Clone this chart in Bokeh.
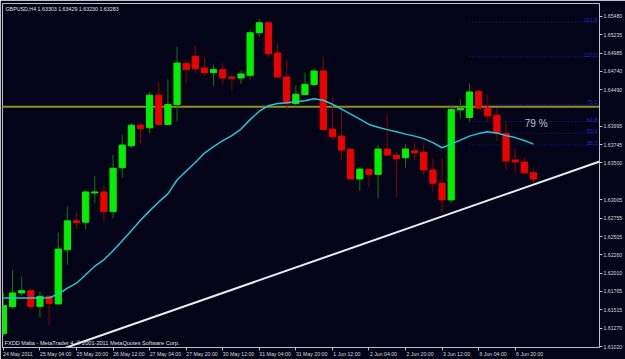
from bokeh.plotting import figure
from bokeh.models import Range1d, FixedTicker, Label, ColumnDataSource, LinearAxis
from bokeh.embed import file_html
from bokeh.resources import INLINE

# ---- data (GBPUSD H4) ----
bars = list(range(59))
opens = [1.61195, 1.61559, 1.61744, 1.61775, 1.61563, 1.61698, 1.61596, 1.62327, 1.62718, 1.62700,
         1.63095, 1.63109, 1.62843, 1.63436, 1.63732, 1.64011, 1.63975, 1.64416, 1.64021, 1.64290,
         1.64843, 1.64941, 1.64783, 1.64721, 1.64762, 1.64662, 1.64649, 1.64685, 1.65260, 1.65395,
         1.64986, 1.64662, 1.64304, 1.64425, 1.64560, 1.64743, 1.63957, 1.63863, 1.63684, 1.63284,
         1.63414, 1.63347, 1.63688, 1.63603, 1.63571, 1.63665, 1.63644, 1.63405, 1.63226, 1.63001,
         1.64218, 1.64115, 1.64465, 1.64244, 1.64146, 1.63900, 1.63540, 1.63513, 1.63369]
highs = [1.61748, 1.62058, 1.61967, 1.61806, 1.61765, 1.61711, 1.62560, 1.62911, 1.62843, 1.63136,
         1.63324, 1.63203, 1.63607, 1.63877, 1.64042, 1.64048, 1.64460, 1.64595, 1.64631, 1.65066,
         1.64887, 1.65089, 1.64924, 1.64829, 1.64856, 1.64685, 1.64752, 1.65305, 1.65449, 1.65426,
         1.65126, 1.64901, 1.64550, 1.64721, 1.64775, 1.64932, 1.64393, 1.64240, 1.63697, 1.63441,
         1.63436, 1.63742, 1.64156, 1.63652, 1.63751, 1.63786, 1.63778, 1.63563, 1.63563, 1.64267,
         1.64362, 1.64573, 1.64492, 1.64416, 1.64236, 1.64048, 1.63697, 1.63576, 1.63429]
lows = [1.61168, 1.61532, 1.61711, 1.61519, 1.61411, 1.61303, 1.61579, 1.62125, 1.62606, 1.62606,
        1.62956, 1.62708, 1.62754, 1.63301, 1.63697, 1.63765, 1.63900, 1.64014, 1.64014, 1.64065,
        1.64573, 1.64708, 1.64685, 1.64541, 1.64560, 1.64483, 1.64573, 1.64631, 1.65201, 1.64932,
        1.64649, 1.64214, 1.64258, 1.64416, 1.64537, 1.63944, 1.63809, 1.63553, 1.63277, 1.63122,
        1.63180, 1.63024, 1.63600, 1.63032, 1.63436, 1.63540, 1.63338, 1.63113, 1.62830, 1.62956,
        1.64110, 1.64056, 1.64234, 1.64056, 1.63796, 1.63396, 1.63369, 1.63361, 1.63230]
closes = [1.61573, 1.61744, 1.61775, 1.61563, 1.61698, 1.61604, 1.62337, 1.62718, 1.62695, 1.63109,
          1.63109, 1.62843, 1.63428, 1.63742, 1.64011, 1.63967, 1.64416, 1.64021, 1.64290, 1.64851,
          1.64762, 1.64775, 1.64721, 1.64762, 1.64649, 1.64645, 1.64703, 1.65260, 1.65395, 1.64977,
          1.64662, 1.64304, 1.64429, 1.64564, 1.64743, 1.63953, 1.63854, 1.63674, 1.63284, 1.63418,
          1.63347, 1.63688, 1.63607, 1.63557, 1.63688, 1.63638, 1.63405, 1.63226, 1.63001, 1.64223,
          1.64240, 1.64460, 1.64240, 1.64137, 1.63900, 1.63526, 1.63513, 1.63369, 1.63283]
ma_values = [1.61676, 1.61676, 1.61676, 1.61676, 1.61676, 1.61680, 1.61728, 1.61808, 1.61876, 1.61990,
             1.62105, 1.62192, 1.62314, 1.62448, 1.62583, 1.62725, 1.62853, 1.62974, 1.63082, 1.63270,
             1.63392, 1.63506, 1.63634, 1.63722, 1.63803, 1.63870, 1.63958, 1.64086, 1.64200, 1.64274,
             1.64304, 1.64315, 1.64328, 1.64342, 1.64368, 1.64348, 1.64294, 1.64227, 1.64160, 1.64092,
             1.64021, 1.63984, 1.63951, 1.63921, 1.63890, 1.63863, 1.63829, 1.63776, 1.63706, 1.63755,
             1.63809, 1.63863, 1.63897, 1.63921, 1.63904, 1.63870, 1.63843, 1.63803, 1.63755]

time_ticks = [0, 4, 8, 12, 16, 20, 24, 28, 32, 36, 40, 44, 48, 52, 56]
time_labels = ["24 May 2011", "25 May 04:00", "25 May 20:00", "26 May 12:00", "27 May 04:00",
               "27 May 20:00", "30 May 12:00", "31 May 04:00", "31 May 20:00", "1 Jun 12:00",
               "2 Jun 04:00", "2 Jun 20:00", "3 Jun 12:00", "6 Jun 04:00", "6 Jun 20:00"]
price_ticks = [1.61020, 1.61270, 1.61515, 1.61765, 1.62010, 1.62260, 1.62505, 1.62755, 1.63005,
               1.63500, 1.63745, 1.63995, 1.64490, 1.64740, 1.64985, 1.65235, 1.65480]
price_labels = ["1.61020", "1.61270", "1.61515", "1.61765", "1.62010", "1.62260", "1.62505", "1.62755",
                "1.63005", "1.63500", "1.63745", "1.63995", "1.64490", "1.64740", "1.64985", "1.65235",
                "1.65480"]

hline_price = 1.6426
hline_label = "1.6426"
current_price = 1.63283
current_label = "1.63283"
title_text = "GBPUSD,H4  1.63303 1.63429 1.63230 1.63283"
copyright_text = "FXDD Malta - MetaTrader 4, \u00a9 2001-2011 MetaQuotes Software Corp."

trend_x = [6.5, 66.0]
trend_y = [1.60990, 1.63553]

fib_start_bar = 51
fib_end_bar = 58
fib_levels = [38.2, 50.0, 61.8, 79.0, 127.0, 161.8]
fib_names = ["38.2", "50.0", "61.8", "79.0", "127.0", "161.8"]
note_text = "79 %"
note_x = 58.3
note_y = 1.64038

# ---- styling ----
BG = "#040418"
GRID = "#c0c0c0"
FONT = "Liberation Sans"
X0, X1 = -0.1, 65.23
Y0, Y1 = 1.61007, 1.65655
BAR_PX = 9.2          # pixels per bar at this size
XFS = 5.2             # x label font size (px)

p = figure(width=625, height=359, output_backend="svg", toolbar_location=None,
           x_range=Range1d(X0, X1), y_range=Range1d(Y0, Y1),
           y_axis_location="right", background_fill_color=BG, border_fill_color=BG,
           min_border_left=2, min_border_right=22, min_border_top=3, min_border_bottom=11,
           outline_line_color=GRID, outline_line_width=1)
p.grid.visible = False

# x axis 1: tick marks only
xa = p.xaxis[0]
xa.ticker = FixedTicker(ticks=time_ticks)
xa.major_label_overrides = {t: "" for t in time_ticks}
xa.major_label_standoff = 0
xa.axis_line_color = GRID
xa.major_tick_line_color = GRID
xa.minor_tick_line_color = None
xa.major_tick_in = 0
xa.major_tick_out = 3

# x axis 2: labels, left-aligned at the ticks (MetaTrader style)
shift = [(0.5 * XFS * len(s) / 2 + 0.3) / BAR_PX for s in time_labels]
lab_pos = [t + d for t, d in zip(time_ticks, shift)]
xl = LinearAxis(ticker=FixedTicker(ticks=lab_pos),
                major_label_overrides={t: s for t, s in zip(lab_pos, time_labels)},
                axis_line_color=None, major_tick_line_color=None, minor_tick_line_color=None,
                major_tick_in=0, major_tick_out=0, major_label_standoff=0,
                major_label_text_color="#d8d8d8", major_label_text_font=FONT,
                major_label_text_font_size=f"{XFS}px")
p.add_layout(xl, "below")

ya = p.yaxis[0]
ya.ticker = FixedTicker(ticks=price_ticks)
ya.major_label_overrides = {t: s for t, s in zip(price_ticks, price_labels)}
ya.axis_line_color = GRID
ya.major_tick_line_color = GRID
ya.minor_tick_line_color = None
ya.major_tick_in = 0
ya.major_tick_out = 3
ya.major_label_standoff = 1
ya.major_label_text_color = "#d8d8d8"
ya.major_label_text_font = FONT
ya.major_label_text_font_size = "5.2px"

# horizontal level line
p.line([X0 - 1, X1 + 1], [hline_price, hline_price], line_color="#8e8e26", line_width=2)

# fib
fib_lo = lows[fib_end_bar]
fib_hi = highs[fib_start_bar]
fib_prices = [fib_lo + (fib_hi - fib_lo) * lv / 100.0 for lv in fib_levels]
p.segment(x0=[fib_start_bar] * len(fib_prices), y0=fib_prices,
          x1=[X1 + 1] * len(fib_prices), y1=fib_prices,
          line_color="#1c1cb0", line_width=1, line_dash="1 2")
p.line([fib_start_bar, fib_end_bar], [fib_hi, fib_lo], line_color="#b00000", line_width=1, line_dash="1 2")

# trend line
p.line(trend_x, trend_y, line_color="#ececec", line_width=2)

# candles
up = [c >= o for o, c in zip(opens, closes)]
src = ColumnDataSource(dict(
    x=bars, high=highs, low=lows,
    top=[max(o, c) for o, c in zip(opens, closes)],
    bottom=[min(o, c) for o, c in zip(opens, closes)],
    body=["#00f000" if u else "#ee0000" for u in up],
    wick=["#0e7a0e" if u else "#8a0000" for u in up],
))
p.segment(x0="x", y0="high", x1="x", y1="low", line_color="wick", line_width=1, source=src)
p.vbar(x="x", top="top", bottom="bottom", width=0.68, fill_color="body", line_color="body",
       line_width=1, source=src)

# moving average
p.line(bars, ma_values, line_color="#22c6d6", line_width=1.5)

# texts
for name, pr in zip(fib_names, fib_prices):
    p.add_layout(Label(x=X1, y=pr, x_offset=-2, y_offset=0, text=name, text_align="right",
                       text_baseline="bottom", text_color="#2424c0", text_font=FONT,
                       text_font_size="5.5px"))
p.add_layout(Label(x=note_x, y=note_y, text=note_text, text_align="center", text_baseline="middle",
                   text_color="#c0c0c0", text_font=FONT, text_font_size="10px"))
p.add_layout(Label(x=X0, y=Y1, x_offset=3, y_offset=-2, text=title_text, text_baseline="top",
                   text_color="#e0e0e0", text_font=FONT, text_font_size="5.3px"))
p.add_layout(Label(x=X0, y=Y0, x_offset=2, y_offset=2, text=copyright_text, text_baseline="bottom",
                   text_color="#e0e0e0", text_font=FONT, text_font_size="5.6px"))
p.add_layout(Label(x=X1, y=hline_price, x_offset=2, text=hline_label, text_baseline="middle",
                   text_color="#000000", background_fill_color="#ffff00", text_font=FONT,
                   text_font_size="5.3px", padding=1))
p.add_layout(Label(x=X1, y=current_price, x_offset=2, text=current_label, text_baseline="middle",
                   text_color="#000000", background_fill_color="#ffffff", text_font=FONT,
                   text_font_size="5.3px", padding=1))

open("out.html", "w").write(file_html(p, INLINE))
